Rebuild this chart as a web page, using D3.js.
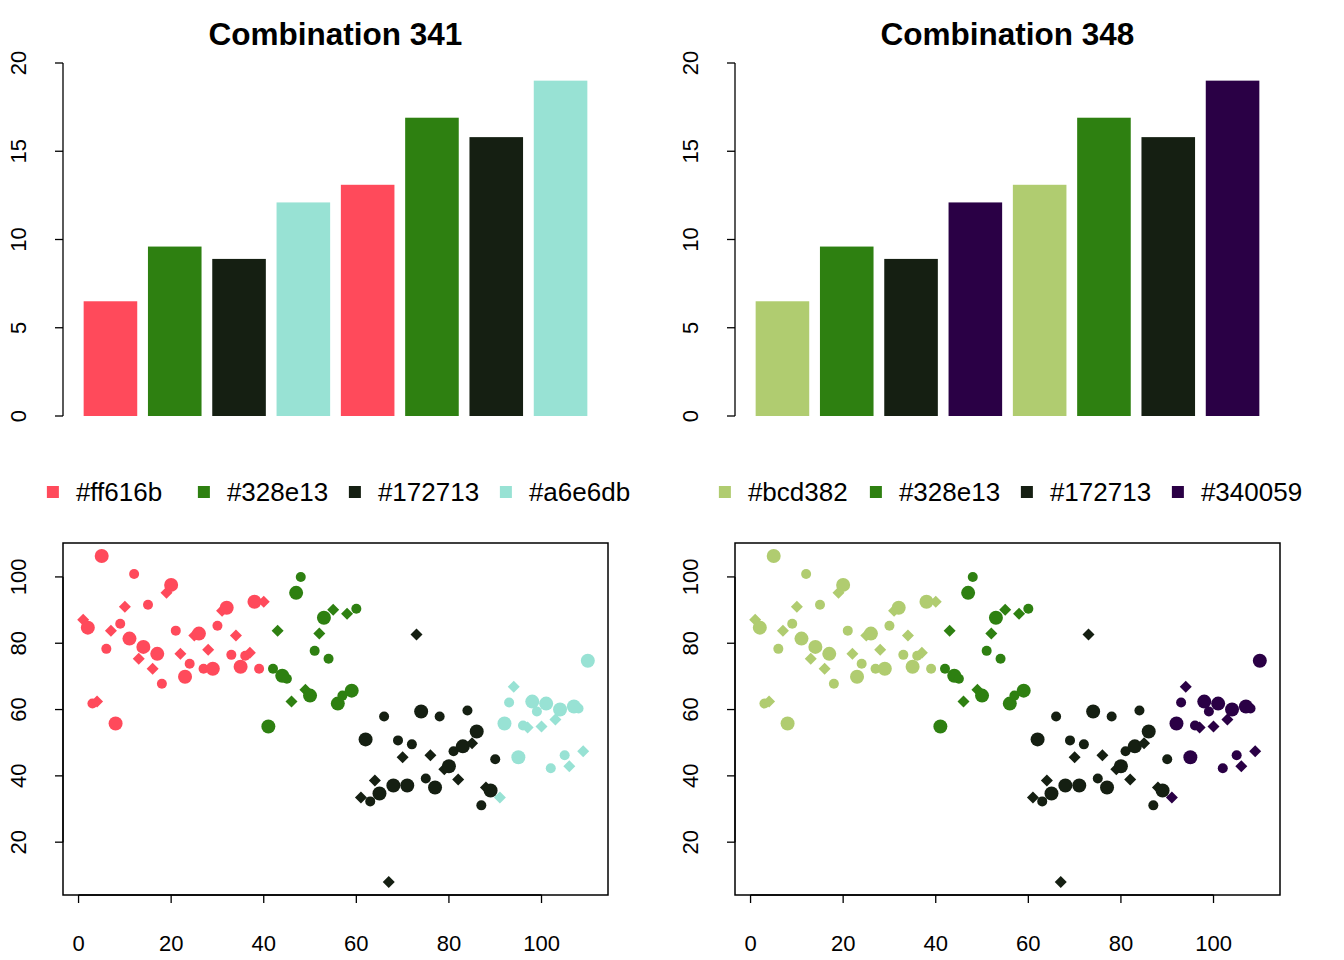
<!DOCTYPE html>
<html>
<head>
<meta charset="utf-8">
<script src="https://cdn.jsdelivr.net/npm/d3@7"></script>
<style>
  html, body { margin: 0; padding: 0; background: #ffffff; }
  svg { display: block; font-family: "Liberation Sans", Arial, Helvetica, sans-serif; }
</style>
</head>
<body>
<svg id="chart" width="1344" height="960"></svg>
<script>
// ---------------- data ----------------
const titles = ["Combination 341", "Combination 348"];
const legendLabels = [
  ["#ff616b", "#328e13", "#172713", "#a6e6db"],
  ["#bcd382", "#328e13", "#172713", "#340059"]
];
const fillColors = [
  ["#ff4a5b", "#2e8011", "#151f12", "#98e2d4"],
  ["#b0cc70", "#2e8011", "#151f12", "#2a0045"]
];
const barValues = [6.5, 9.6, 8.9, 12.1, 13.1, 16.9, 15.8, 19.0];
const barColorIndex = [0, 1, 2, 3, 0, 1, 2, 3];
const barTicks = [0, 5, 10, 15, 20];

const scatterY = [
  87.1, 84.7, 61.8, 62.4, 106.3, 78.3, 83.8, 55.8, 85.9, 91.0,
  81.4, 100.9, 75.3, 78.9, 91.6, 72.3, 76.8, 67.8, 95.2, 97.6,
  83.8, 76.8, 69.9, 73.8, 82.3, 82.9, 72.3, 78.0, 72.3, 85.3,
  89.8, 90.7, 76.5, 82.3, 72.9, 76.2, 77.1, 92.5, 72.3, 92.5,
  54.9, 72.3, 83.8, 70.2, 69.3, 62.4, 95.2, 100.0, 66.0, 64.2,
  77.7, 82.9, 87.7, 75.3, 90.1, 61.8, 64.2, 88.9, 65.7, 90.4,
  33.5, 51.0, 32.3, 38.6, 34.7, 57.9, 8.0, 37.1, 50.7, 45.6,
  37.1, 49.5, 82.6, 59.4, 39.2, 46.2, 36.5, 57.9, 42.0, 42.9,
  47.4, 38.9, 48.9, 59.7, 49.8, 53.4, 31.1, 36.5, 35.6, 45.0,
  33.5, 55.8, 62.1, 66.9, 45.6, 55.2, 54.6, 62.4, 59.4, 54.9,
  61.8, 42.3, 57.0, 60.0, 46.2, 42.9, 60.9, 60.3, 47.4, 74.7
];
const groupSizes = [40, 20, 30, 20];       // points per colour group, in order
const pchCycle = [18, 19, 20];             // R plotting symbols, recycled
const scatterXTicks = [0, 20, 40, 60, 80, 100];
const scatterYTicks = [20, 40, 60, 80, 100];

// ---------------- build point table ----------------
const groupOf = [];
groupSizes.forEach((n, g) => { for (let k = 0; k < n; k++) groupOf.push(g); });
const points = scatterY.map((v, i) => ({ x: i + 1, y: v, g: groupOf[i], pch: pchCycle[i % 3] }));

// ---------------- drawing ----------------
const svg = d3.select("#chart");
const FONT_AXIS = 22, FONT_TITLE = 31.5, FONT_LEG = 26;

function rAxisLeft(g, scale, ticks, x) {
  const ax = g.append("g").attr("transform", `translate(${x},0)`);
  ax.append("line")
    .attr("x1", 0).attr("x2", 0)
    .attr("y1", scale(ticks[0])).attr("y2", scale(ticks[ticks.length - 1]))
    .attr("stroke", "#000").attr("stroke-width", 1.3);
  const t = ax.selectAll("g.tk").data(ticks).enter().append("g")
    .attr("transform", d => `translate(0,${scale(d)})`);
  t.append("line").attr("x1", -8).attr("x2", 0).attr("stroke", "#000").attr("stroke-width", 1.3);
  t.append("text").text(d => d)
    .attr("transform", "rotate(-90)")
    .attr("x", 0).attr("y", -37)
    .attr("text-anchor", "middle")
    .attr("font-size", FONT_AXIS);
}

function rAxisBottom(g, scale, ticks, y) {
  const ax = g.append("g").attr("transform", `translate(0,${y})`);
  ax.append("line")
    .attr("y1", 0).attr("y2", 0)
    .attr("x1", scale(ticks[0])).attr("x2", scale(ticks[ticks.length - 1]))
    .attr("stroke", "#000").attr("stroke-width", 1.3);
  const t = ax.selectAll("g.tk").data(ticks).enter().append("g")
    .attr("transform", d => `translate(${scale(d)},0)`);
  t.append("line").attr("y1", 0).attr("y2", 8).attr("stroke", "#000").attr("stroke-width", 1.3);
  t.append("text").text(d => d)
    .attr("y", 56)
    .attr("text-anchor", "middle")
    .attr("font-size", FONT_AXIS);
}

[0, 1].forEach(p => {
  const ox = p * 672;
  const g = svg.append("g").attr("transform", `translate(${ox},0)`);
  const cols = fillColors[p];

  // ----- bar chart -----
  const nb = barValues.length;
  const xb = d3.scaleLinear()
    .domain([0.2 - 0.04 * (nb * 1.2 - 0.2), nb * 1.2 + 0.04 * (nb * 1.2 - 0.2)])
    .range([63.5, 607.5]);
  const yb = d3.scaleLinear().domain([0, 20]).range([416, 63]);

  g.selectAll("rect.bar").data(barValues).enter().append("rect")
    .attr("class", "bar")
    .attr("x", (d, i) => xb(0.2 + i * 1.2))
    .attr("width", (d, i) => xb(1.2 + i * 1.2) - xb(0.2 + i * 1.2))
    .attr("y", d => yb(d))
    .attr("height", d => yb(0) - yb(d))
    .attr("fill", (d, i) => cols[barColorIndex[i]]);

  rAxisLeft(g, yb, barTicks, 63);

  g.append("text")
    .attr("x", 335.5).attr("y", 45)
    .attr("text-anchor", "middle")
    .attr("font-size", FONT_TITLE).attr("font-weight", "bold")
    .text(titles[p]);

  // ----- legend -----
  const leg = g.append("g");
  const step = 151, textOff = 29;
  const items = leg.selectAll("g.li").data(legendLabels[p]).enter().append("g")
    .attr("transform", (d, i) => `translate(${i * step},0)`);
  items.append("rect").attr("x", 0).attr("y", 486).attr("width", 12).attr("height", 12)
    .attr("fill", (d, i) => cols[i]);
  items.append("text").attr("x", textOff).attr("y", 501)
    .attr("font-size", FONT_LEG).text(d => d);
  const lastW = items.nodes()[3].querySelector("text").getComputedTextLength();
  const totalW = 3 * step + textOff + lastW;
  leg.attr("transform", `translate(${338.5 - totalW / 2},0)`);

  // ----- scatter -----
  const [ymin, ymax] = d3.extent(points, d => d.y);
  const [xmin, xmax] = d3.extent(points, d => d.x);
  const xs = d3.scaleLinear()
    .domain([xmin - 0.04 * (xmax - xmin), xmax + 0.04 * (xmax - xmin)])
    .range([63, 608]);
  const ys = d3.scaleLinear()
    .domain([ymin - 0.04 * (ymax - ymin), ymax + 0.04 * (ymax - ymin)])
    .range([895, 543]);

  const sym = g.append("g");
  points.forEach(d => {
    const cx = xs(d.x), cy = ys(d.y), c = cols[d.g];
    if (d.pch === 18) {
      const s = 6;
      sym.append("path")
        .attr("d", `M${cx},${cy - s}L${cx + s},${cy}L${cx},${cy + s}L${cx - s},${cy}Z`)
        .attr("fill", c);
    } else {
      sym.append("circle").attr("cx", cx).attr("cy", cy)
        .attr("r", d.pch === 19 ? 7 : 5).attr("fill", c);
    }
  });

  g.append("rect").attr("x", 63).attr("y", 543).attr("width", 545).attr("height", 352)
    .attr("fill", "none").attr("stroke", "#000").attr("stroke-width", 1.5);

  rAxisLeft(g, ys, scatterYTicks, 63);
  rAxisBottom(g, xs, scatterXTicks, 895);
});
</script>
</body>
</html>
